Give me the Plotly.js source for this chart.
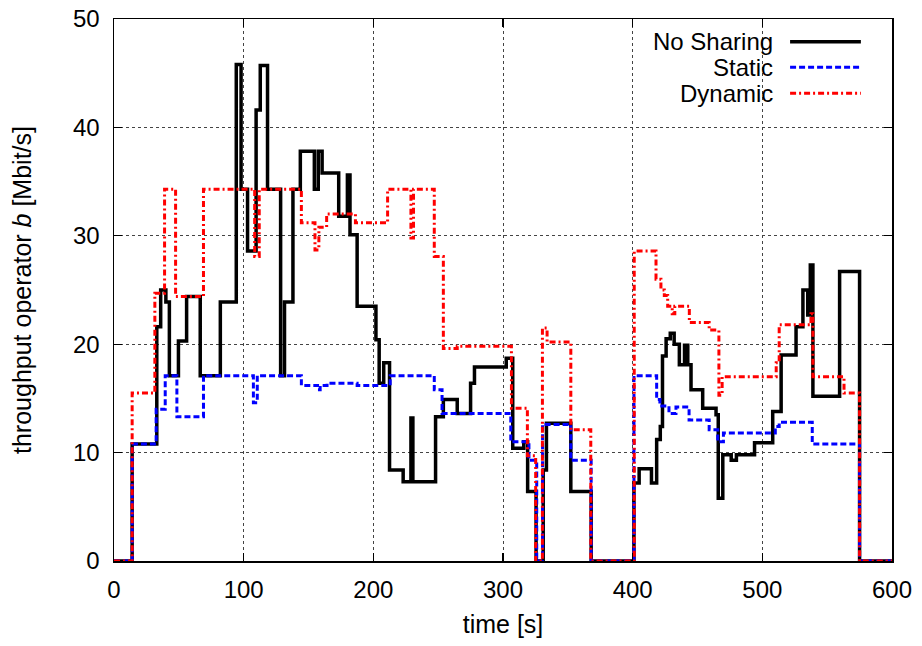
<!DOCTYPE html>
<html>
<head>
<meta charset="utf-8">
<script src="https://cdn.plot.ly/plotly-3.0.1.min.js"></script>
<style>html,body{margin:0;padding:0;background:#fff;}#chart{width:922px;height:646px;}</style>
</head>
<body>
<div id="chart"></div>
<script>
// time [s] at each change, value [Mbit/s] after change (step series)
const noSharingT = [0, 14, 33, 36, 40, 42.7, 49.7, 56, 66.5, 82, 94.3, 98, 103, 109.6, 112.8, 118.4, 128.5, 131.5, 138, 143.7, 154.5, 157.5, 160.5, 173.3, 180, 182, 187.5, 202, 204.5, 208, 212.5, 223, 229, 230.5, 248, 254, 264.7, 275, 278, 302.5, 307.5, 316, 319, 325.5, 331, 333.5, 352.3, 368, 401, 405, 414.5, 418.5, 421.3, 423, 425.8, 429, 432, 436, 440, 442.5, 445, 454, 464.3, 466, 469.5, 476, 480, 494, 508, 514.5, 526, 531.3, 535, 537, 539, 559.6, 575, 600];
const noSharingV = [0, 10.8, 21.6, 25.0, 23.9, 17.1, 20.3, 24.4, 17.1, 23.9, 45.8, 34.3, 28.6, 41.6, 45.7, 34.3, 17.1, 23.9, 34.3, 37.8, 34.3, 37.8, 35.8, 31.8, 35.6, 30.1, 23.5, 20.4, 16.4, 18.3, 8.4, 7.3, 13.2, 7.3, 13.3, 14.9, 13.6, 16.4, 17.9, 18.7, 10.4, 11.0, 6.4, 0, 8.4, 12.7, 6.4, 0, 7.2, 8.5, 7.2, 11.2, 12.4, 18.9, 20.5, 21.0, 20.0, 18.1, 19.9, 18.1, 15.8, 14.1, 13.5, 5.8, 9.8, 9.3, 9.8, 10.9, 13.8, 19.0, 21.6, 25.0, 22.7, 27.3, 15.2, 26.7, 0, 0];

const staticT = [0, 14, 32.5, 39.5, 48.5, 69, 107.5, 110.5, 144.5, 157, 159, 164.3, 187.5, 213, 247, 253, 306, 320, 326, 330.5, 352.3, 368, 401, 418.5, 421, 428, 433.4, 443.5, 459, 465.6, 470, 510, 513, 538.5, 575, 600];
const staticV = [0, 10.8, 14.0, 17.1, 13.3, 17.1, 14.6, 17.1, 16.2, 15.8, 16.2, 16.4, 16.2, 17.1, 15.8, 13.6, 11.0, 9.3, 0, 12.6, 9.3, 0, 17.1, 14.9, 14.3, 13.6, 14.2, 13.0, 12.1, 11.0, 11.8, 12.4, 12.8, 10.8, 0, 0];

const dynamicT = [0, 14, 31.5, 39, 47.5, 69, 108.5, 112, 144.5, 155, 158, 164, 186.2, 211, 229, 231, 247, 254, 264.7, 306.5, 318.8, 325.2, 330.4, 334, 352.3, 367.7, 401.2, 418, 421.8, 424.4, 427, 430.5, 432.5, 443.7, 459, 466.5, 469, 510.7, 513, 537.5, 539, 563, 575, 600];
const dynamicV = [0, 15.5, 24.7, 34.3, 24.4, 34.3, 28.1, 34.3, 31.2, 28.7, 30.8, 32.0, 31.2, 34.3, 29.8, 34.3, 28.1, 19.6, 19.8, 14.1, 9.7, 0, 21.5, 20.2, 12.1, 0, 28.6, 26.0, 25.0, 24.5, 23.5, 22.8, 23.5, 22.0, 21.3, 15.3, 17.0, 18.3, 21.8, 22.8, 17.0, 15.5, 0, 0];

const seriesNames = ["No Sharing", "Static", "Dynamic"];
const xTicks = [0, 100, 200, 300, 400, 500, 600];
const yTicks = [0, 10, 20, 30, 40, 50];

const FONT = "Liberation Sans, Arial, Helvetica, sans-serif";
const colors = ["#000000", "#0000ff", "#ff0000"];
const dashes = ["solid", "6px,3px", "6px,3px,2px,3px"];
const widths = [3.5, 3, 3];

const data = [
  {x: noSharingT, y: noSharingV, name: seriesNames[0]},
  {x: staticT, y: staticV, name: seriesNames[1]},
  {x: dynamicT, y: dynamicV, name: seriesNames[2]}
].map((d, i) => Object.assign(d, {
  type: "scatter", mode: "lines", showlegend: false,
  line: {shape: "hv", color: colors[i], width: widths[i], dash: dashes[i]}
}));

const legendY = [0.958, 0.911, 0.863];
const annotations = seriesNames.map((n, i) => ({
  xref: "paper", yref: "paper", x: 0.849, y: legendY[i], xanchor: "right", yanchor: "middle",
  text: n, showarrow: false, font: {family: FONT, size: 24, color: "#000"}
}));
const shapes = seriesNames.map((n, i) => ({
  type: "line", xref: "paper", yref: "paper", x0: 0.869, x1: 0.96, y0: legendY[i], y1: legendY[i],
  line: {color: colors[i], width: widths[i], dash: dashes[i]}
}));

const axisCommon = {
  showline: true, mirror: "ticks", linecolor: "#000", linewidth: 1.5,
  ticks: "inside", ticklen: 8, tickcolor: "#000", tickwidth: 1.2,
  showgrid: true, gridcolor: "#444", griddash: "dot", gridwidth: 1,
  zeroline: false, tickfont: {family: FONT, size: 24, color: "#000"}
};

const layout = {
  width: 922, height: 646,
  margin: {l: 114, r: 30, t: 19, b: 85},
  paper_bgcolor: "#fff", plot_bgcolor: "#fff",
  font: {family: FONT, color: "#000"},
  xaxis: Object.assign({}, axisCommon, {
    range: [0, 600], tickvals: xTicks, ticktext: xTicks.map(String),
    ticklabelstandoff: 7,
    title: {text: "time [s]", font: {family: FONT, size: 25}, standoff: 13}
  }),
  yaxis: Object.assign({}, axisCommon, {
    range: [0, 50], tickvals: yTicks, ticktext: yTicks.map(String),
    ticklabelstandoff: 8,
    title: {text: "throughput operator <i>b</i> [Mbit/s]", font: {family: FONT, size: 25}, standoff: 34}
  }),
  annotations: annotations,
  shapes: shapes
};

Plotly.newPlot("chart", data, layout, {displayModeBar: false, staticPlot: true});
</script>
</body>
</html>
